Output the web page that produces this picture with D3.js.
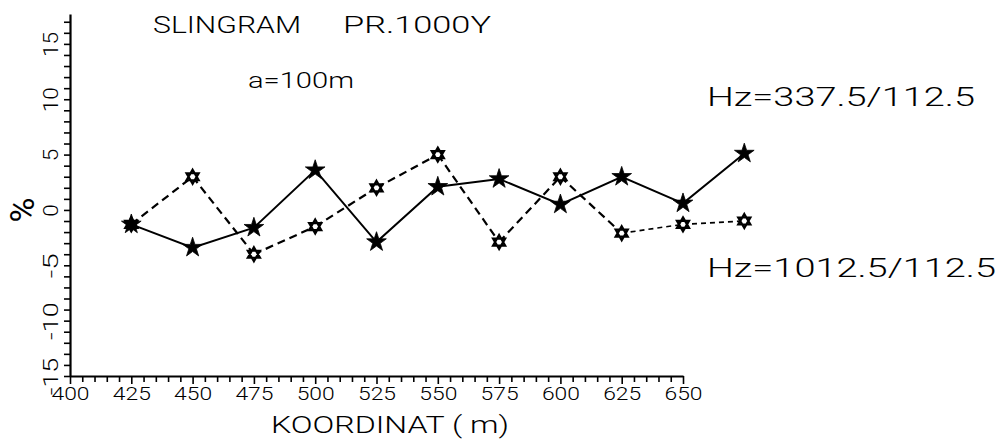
<!DOCTYPE html>
<html><head><meta charset="utf-8">
<script src="https://cdn.jsdelivr.net/npm/d3@7"></script>
<style>
html,body{margin:0;padding:0;background:#fff;}
svg{display:block;}
text{font-family:Roboto,"DejaVu Sans",sans-serif;font-weight:300;fill:#000;}
</style></head>
<body>
<svg id="chart" width="1001" height="442"></svg>
<script>
// ---- data ----
const coords = [425, 450, 475, 500, 525, 550, 575, 600, 625, 650, 675];
const hz337 = [-1.3, -3.4, -1.6, 3.6, -2.9, 2.1, 2.8, 0.5, 3.0, 0.6, 5.1];
const hz1012 = [-1.3, 3.0, -4.0, -1.5, 2.0, 5.0, -2.9, 3.0, -2.1, -1.3, -1.0];
const xTickLabels = [400, 425, 450, 475, 500, 525, 550, 575, 600, 625, 650];
const yTickLabels = [-15, -10, -5, 0, 5, 10, 15];

const svg = d3.select("#chart");
svg.append("rect").attr("width",1001).attr("height",442).attr("fill","#fff");

const x = d3.scaleLinear().domain([400, 650]).range([70, 683]);
const y = d3.scaleLinear().domain([-15, 17.7]).range([376, 14]);

function fit(sel, w){ sel.attr("textLength", w).attr("lengthAdjust","spacingAndGlyphs"); }

// x axis
const xAxis = d3.axisBottom(x)
  .tickValues(d3.range(400, 651, 5))
  .tickSizeInner(6).tickSizeOuter(0).tickPadding(5)
  .tickFormat(d => xTickLabels.includes(d) ? String(d) : "");
const gx = svg.append("g").attr("transform", `translate(0,${y(-15)})`).call(xAxis);
gx.attr("font-family", null);
gx.select(".domain").attr("stroke","#000").attr("stroke-width",2.2);
gx.selectAll(".tick line").attr("stroke","#000").attr("stroke-width",1.6)
  .attr("y2", d => xTickLabels.includes(d) ? 8 : 6);
gx.selectAll(".tick text").attr("font-size",18).attr("dy","0.72em")
  .each(function(d){ if (xTickLabels.includes(d)) fit(d3.select(this), 38); });

// y axis
const yAxis = d3.axisLeft(y)
  .tickValues(d3.range(-15, 18, 1))
  .tickSizeInner(6).tickSizeOuter(0)
  .tickFormat(d => yTickLabels.includes(d) ? String(d) : "");
const gy = svg.append("g").attr("transform", `translate(${x(400)},0)`).call(yAxis);
gy.attr("font-family", null);
gy.select(".domain").attr("stroke","#000").attr("stroke-width",2.2);
gy.selectAll(".tick line").attr("stroke","#000").attr("stroke-width",1.6);
gy.selectAll(".tick text")
  .attr("x", null).attr("dy", null)
  .attr("text-anchor","middle")
  .attr("font-size",20)
  .attr("transform","translate(-12,0) rotate(-90)")
  .each(function(d){
    if (!yTickLabels.includes(d)) return;
    fit(d3.select(this), String(d).length*12.5);
  });

// axis titles
svg.append("text").attr("transform",`translate(34,${y(0)}) rotate(-90)`)
  .attr("text-anchor","middle").style("font-size","34px").style("font-weight","400").text("%");
svg.append("text").attr("x",271).attr("y",433).attr("font-size",23)
  .call(fit, 238).text("KOORDINAT ( m)");

// annotations
svg.append("text").attr("x",153).attr("y",33).attr("font-size",23)
  .call(fit, 148).text("SLINGRAM");
svg.append("text").attr("x",343).attr("y",33).attr("font-size",23)
  .call(fit, 148).text("PR.1000Y");
svg.append("text").attr("x",248).attr("y",88).attr("font-size",22)
  .call(fit, 106).text("a=100m");
svg.append("text").attr("x",707).attr("y",106).attr("font-size",25)
  .call(fit, 268).text("Hz=337.5/112.5");
svg.append("text").attr("x",707).attr("y",277).attr("font-size",25)
  .call(fit, 289).text("Hz=1012.5/112.5");

// dashed series (segments, finer dashes to the right)
const pts2 = coords.map((c,i)=>[x(c), y(hz1012[i])]);
for (let i=0;i<pts2.length-1;i++){
  svg.append("path")
    .attr("d", d3.line()([pts2[i], pts2[i+1]]))
    .attr("fill","none").attr("stroke","#000")
    .attr("stroke-width", i>=8 ? 1.6 : 2.2)
    .attr("stroke-dasharray", i>=8 ? "5,4" : "8,5");
}
// solid series
svg.append("path")
  .datum(coords.map((c,i)=>[x(c), y(hz337[i])]))
  .attr("d", d3.line())
  .attr("fill","none").attr("stroke","#000").attr("stroke-width",2);

// hexagram markers
function hexagram(r){
  const tri = a => d3.range(3).map(k=>{const t=a+k*2*Math.PI/3; return [r*Math.sin(t), -r*Math.cos(t)];});
  const l = d3.line().curve(d3.curveLinearClosed);
  return l(tri(0)) + l(tri(Math.PI));
}
svg.append("g").selectAll("path").data(coords).join("path")
  .attr("transform",(c,i)=>`translate(${x(c)},${y(hz1012[i])})`)
  .attr("d", hexagram(7))
  .attr("fill","#fff").attr("stroke","#000").attr("stroke-width",2.2);
// star markers
svg.append("g").selectAll("path").data(coords).join("path")
  .attr("transform",(c,i)=>`translate(${x(c)},${y(hz337[i])})`)
  .attr("d", d3.symbol(d3.symbolStar, 120)())
  .attr("fill","#000").attr("stroke","#000").attr("stroke-width",0.8);
</script>
</body></html>
